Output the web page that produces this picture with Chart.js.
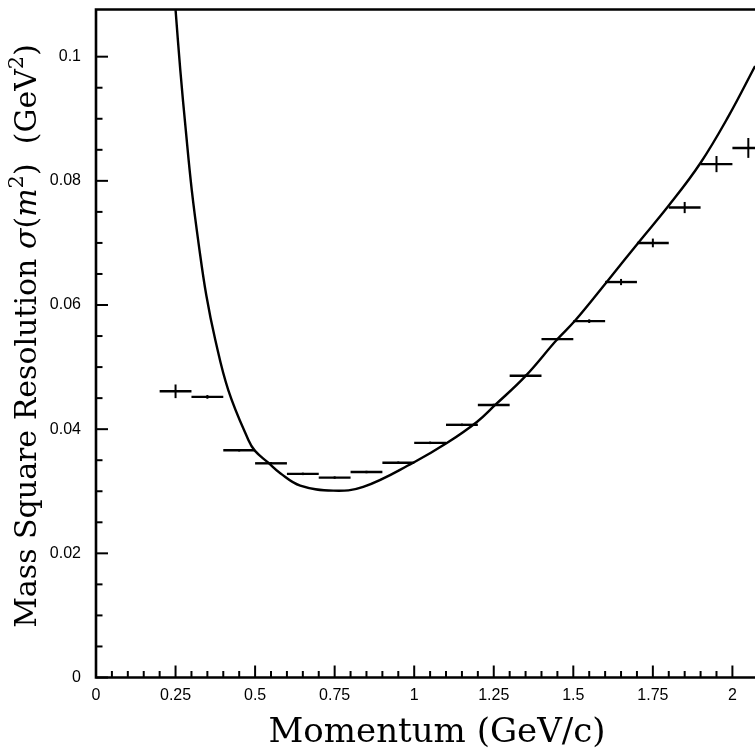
<!DOCTYPE html>
<html>
<head>
<meta charset="utf-8">
<script src="https://cdn.jsdelivr.net/npm/chart.js@4.4.0/dist/chart.umd.min.js"></script>
<style>
  html, body { margin: 0; padding: 0; background: #fff; }
  #wrap { width: 755px; height: 750px; }
</style>
</head>
<body>
<div id="wrap"><canvas id="grafico"></canvas></div>
<script>
// medidas (centro do bin, valor, erro)
const momentum = [0.25, 0.35, 0.45, 0.55, 0.65, 0.75, 0.85, 0.95, 1.05, 1.15, 1.25, 1.35, 1.45, 1.55, 1.65, 1.75, 1.85, 1.95, 2.05];
const resolution = [0.0461, 0.0452, 0.0366, 0.0345, 0.0328, 0.0322, 0.0331, 0.0346, 0.0378, 0.0407, 0.0439, 0.0486, 0.0545, 0.0574, 0.0637, 0.0700, 0.0757, 0.0827, 0.0853];
const resolutionErr = [0.0011, 0.0003, 0.0002, 0.0002, 0.0002, 0.0002, 0.0002, 0.0002, 0.0002, 0.0002, 0.0002, 0.0002, 0.0002, 0.0003, 0.0005, 0.0007, 0.0009, 0.0013, 0.0016];
const binHalfWidth = 0.05;

// curva ajustada
const fitMomentum = [0.2501, 0.2648, 0.2821, 0.3010, 0.3230, 0.3465, 0.3748, 0.4157, 0.4785, 0.4997, 0.5414, 0.5791, 0.6419, 0.7456, 0.8398, 0.9969, 1.1037, 1.1979, 1.2545, 1.3488, 1.4483, 1.5058, 1.6095, 1.7038, 1.8012, 1.8986, 1.9866, 2.0714];
const fitResolution = [0.1075, 0.0979, 0.0882, 0.0785, 0.0697, 0.0616, 0.0544, 0.0463, 0.0383, 0.0365, 0.0346, 0.0329, 0.0309, 0.0301, 0.0307, 0.0346, 0.0378, 0.0412, 0.0439, 0.0485, 0.0544, 0.0575, 0.0640, 0.0700, 0.0761, 0.0828, 0.0903, 0.0985];

const xMin = 0, xMax = 2.071, xStep = 0.05, xMajor = 0.25;
const yMin = 0, yMax = 0.1076, yStep = 0.005, yMajor = 0.02;

function ehMultiplo(v, passo) {
    let r = v / passo;
    return Math.abs(r - Math.round(r)) < 1e-6;
}
function fmt(v) {
    return String(Math.round(v * 1000) / 1000);
}

const pontos = momentum.map((m, i) => ({ x: m, y: resolution[i] }));
const curva = fitMomentum.map((m, i) => ({ x: m, y: fitResolution[i] }));

// barras de erro + moldura + ticks para dentro
const moldura = {
    id: 'moldura',
    afterDatasetsDraw(chart) {
        const ctx = chart.ctx;
        const sx = chart.scales.x, sy = chart.scales.y;
        ctx.save();
        ctx.strokeStyle = '#000';
        ctx.lineCap = 'butt';
        for (let i = 0; i < momentum.length; i++) {
            let px = sx.getPixelForValue(momentum[i]);
            let py = sy.getPixelForValue(resolution[i]);
            let x1 = sx.getPixelForValue(momentum[i] - binHalfWidth);
            let x2 = sx.getPixelForValue(momentum[i] + binHalfWidth);
            let y1 = sy.getPixelForValue(resolution[i] - resolutionErr[i]);
            let y2 = sy.getPixelForValue(resolution[i] + resolutionErr[i]);
            ctx.lineWidth = 2.4;
            ctx.beginPath();
            ctx.moveTo(x1, py); ctx.lineTo(x2, py);
            ctx.stroke();
            ctx.lineWidth = 2;
            ctx.beginPath();
            ctx.moveTo(px, y1); ctx.lineTo(px, y2);
            ctx.stroke();
        }
        ctx.restore();
    },
    afterDraw(chart) {
        const ctx = chart.ctx;
        const a = chart.chartArea;
        const sx = chart.scales.x, sy = chart.scales.y;
        ctx.save();
        ctx.strokeStyle = '#000';
        ctx.lineWidth = 2.6;
        ctx.beginPath();
        ctx.moveTo(a.right + 2, a.top);
        ctx.lineTo(a.left, a.top);
        ctx.lineTo(a.left, a.bottom);
        ctx.lineTo(a.right + 2, a.bottom);
        ctx.stroke();

        ctx.lineWidth = 2;
        sx.ticks.forEach(t => {
            if (!ehMultiplo(t.value, xStep)) return;
            let px = sx.getPixelForValue(t.value);
            let len = ehMultiplo(t.value, xMajor) ? 12 : 6.5;
            ctx.beginPath();
            ctx.moveTo(px, a.bottom);
            ctx.lineTo(px, a.bottom - len);
            ctx.stroke();
        });
        sy.ticks.forEach(t => {
            if (!ehMultiplo(t.value, yStep)) return;
            let py = sy.getPixelForValue(t.value);
            let len = ehMultiplo(t.value, yMajor) ? 12 : 6.5;
            ctx.beginPath();
            ctx.moveTo(a.left, py);
            ctx.lineTo(a.left + len, py);
            ctx.stroke();
        });
        ctx.restore();

        // titulos dos eixos
        ctx.save();
        ctx.fillStyle = '#000';
        ctx.textBaseline = 'alphabetic';
        ctx.font = '34px "DejaVu Serif"';
        ctx.textAlign = 'center';
        ctx.fillText('Momentum (GeV/c)', 437, 742);

        const tam = 30;
        const partes = [
            { t: 'Mass Square Resolution ', f: 'normal', up: 0 },
            { t: 'σ', f: 'italic', up: 0 },
            { t: '(', f: 'normal', up: 0 },
            { t: 'm', f: 'italic', up: 0 },
            { t: '2', f: 'normal', up: 1 },
            { t: ')', f: 'normal', up: 0 },
            { t: '  (GeV', f: 'normal', up: 0 },
            { t: '2', f: 'normal', up: 1 },
            { t: ')', f: 'normal', up: 0 }
        ];
        function fonte(p) {
            let s = p.up ? Math.round(tam * 0.7) : tam;
            return p.f + ' ' + s + 'px "DejaVu Serif"';
        }
        let total = 0;
        partes.forEach(p => { ctx.font = fonte(p); total += ctx.measureText(p.t).width; });
        ctx.translate(36, 336);
        ctx.rotate(-Math.PI / 2);
        ctx.textAlign = 'left';
        let x = -total / 2;
        partes.forEach(p => {
            ctx.font = fonte(p);
            ctx.fillText(p.t, x, p.up ? -tam * 0.42 : 0);
            x += ctx.measureText(p.t).width;
        });
        ctx.restore();
    }
};

const config = {
    type: 'scatter',
    data: {
        datasets: [
            {
                label: 'Medidas',
                data: pontos,
                pointRadius: 0,
                showLine: false
            },
            {
                label: 'Ajuste',
                data: curva,
                showLine: true,
                borderColor: '#000',
                borderWidth: 2.4,
                pointRadius: 0,
                fill: false,
                tension: 0.4
            }
        ]
    },
    options: {
        responsive: true,
        maintainAspectRatio: false,
        animation: false,
        devicePixelRatio: 1,
        layout: { padding: { left: 0, top: 9.5, right: 0, bottom: 0 } },
        plugins: {
            legend: { display: false },
            tooltip: { enabled: false }
        },
        scales: {
            x: {
                type: 'linear',
                min: xMin,
                max: xMax,
                grid: { display: false, drawTicks: false },
                border: { display: false },
                afterFit: s => { s.height = 72.5; s.paddingLeft = 0; s.paddingRight = 0; },
                ticks: {
                    stepSize: xStep,
                    autoSkip: false,
                    maxRotation: 0,
                    minRotation: 0,
                    padding: 8,
                    color: '#000',
                    font: { family: '"Liberation Sans", Arial, sans-serif', size: 16 },
                    callback: v => ehMultiplo(v, xMajor) ? fmt(v) : ''
                }
            },
            y: {
                type: 'linear',
                min: yMin,
                max: yMax,
                grid: { display: false, drawTicks: false },
                border: { display: false },
                afterFit: s => { s.width = 96; s.paddingTop = 0; s.paddingBottom = 0; },
                ticks: {
                    stepSize: yStep,
                    autoSkip: false,
                    padding: 15,
                    color: '#000',
                    font: { family: '"Liberation Sans", Arial, sans-serif', size: 16 },
                    callback: v => ehMultiplo(v, yMajor) ? fmt(v) : ''
                }
            }
        }
    },
    plugins: [moldura]
};

let myChart = new Chart(document.getElementById('grafico'), config);
</script>
</body>
</html>
